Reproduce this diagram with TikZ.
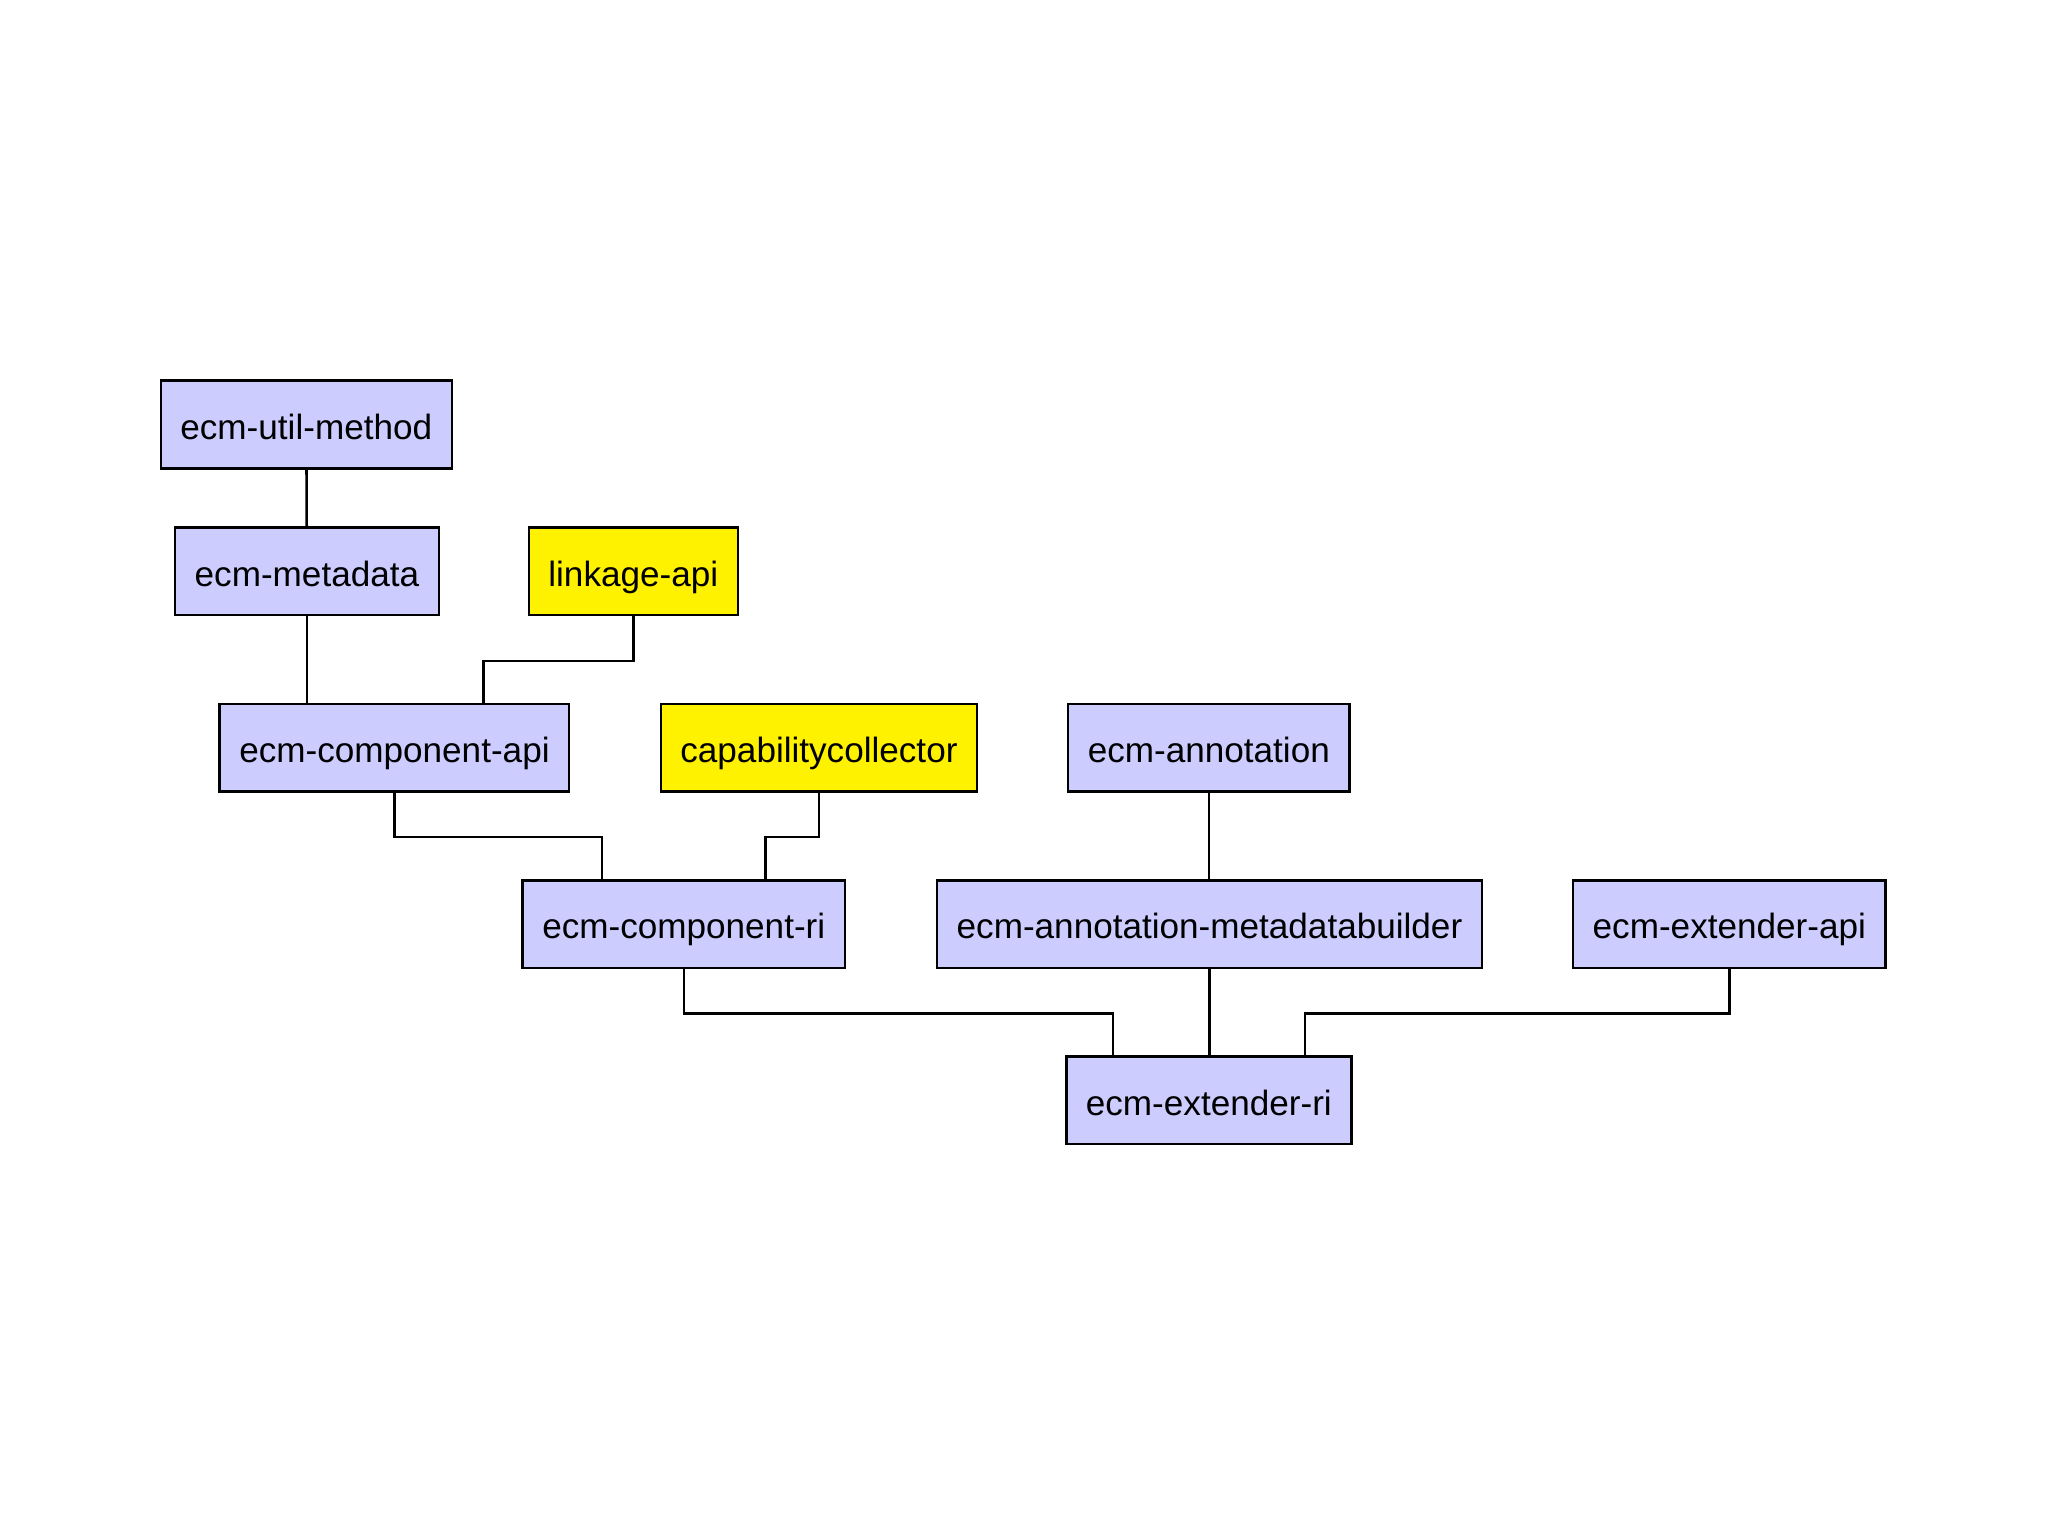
\documentclass[tikz,border=0pt]{standalone}
\usepackage{fontspec}
\setmainfont{Liberation Sans}
\usetikzlibrary{positioning}

\definecolor{lav}{HTML}{CCCCFF}

\begin{document}
\begin{tikzpicture}[
	mod/.style={draw, fill=lav, line width=1.1pt, minimum height=1.34cm, inner xsep=0.3cm,
		text height=13pt, text depth=0.2pt,
		font=\fontsize{15.3pt}{18pt}\selectfont},
	ext/.style={mod, fill=yellow},
	link/.style={line width=1.1pt}
	]
	\useasboundingbox (0,0) rectangle (31.36,-23.54);

	\node[mod] (util) at (4.69,-6.50) {ecm-util-method};
	\node[mod] (meta) at (4.70,-8.75) {ecm-metadata};
	\node[ext, right=1.34cm of meta] (lnk) {linkage-api};
	\node[mod] (capi) at (6.04,-11.45) {ecm-component-api};
	\node[ext] (cap) at (12.54,-11.45) {capabilitycollector};
	\node[mod] (annot) at (18.51,-11.45) {ecm-annotation};
	\node[mod] (cri) at (10.47,-14.15) {ecm-component-ri};
	\node[mod] (amb) at (18.52,-14.15) {ecm-annotation-metadatabuilder};
	\node[mod] (xapi) at (26.48,-14.15) {ecm-extender-api};
	\node[mod] (xri) at (18.51,-16.85) {ecm-extender-ri};

	\draw[link] (util) -- (meta);
	\draw[link] (meta.south) -- (meta.south |- capi.north);
	\draw[link] (lnk.south) -- ++(0,-0.68) -| ([xshift=1.36cm]capi.north);
	\draw[link] (capi.south) -- ++(0,-0.68) -| ([xshift=-1.25cm]cri.north);
	\draw[link] (cap.south) -- ++(0,-0.68) -| ([xshift=1.25cm]cri.north);
	\draw[link] (annot.south) -- (annot.south |- amb.north);
	\draw[link] (cri.south) -- ++(0,-0.68) -| ([xshift=-1.47cm]xri.north);
	\draw[link] (amb.south) -- (amb.south |- xri.north);
	\draw[link] (xapi.south) -- ++(0,-0.68) -| ([xshift=1.47cm]xri.north);
\end{tikzpicture}
\end{document}
